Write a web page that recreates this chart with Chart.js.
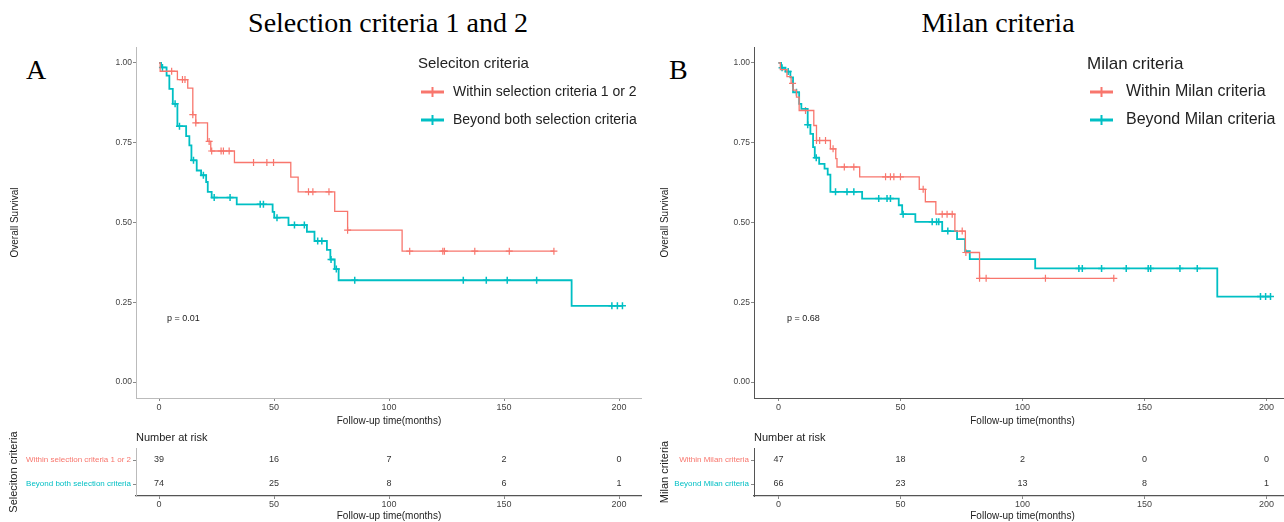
<!DOCTYPE html>
<html>
<head>
<meta charset="utf-8">
<script src="https://cdn.jsdelivr.net/npm/chart.js@4.4.1/dist/chart.umd.min.js"></script>
<style>
  html, body { margin: 0; padding: 0; background: #fff; width: 1284px; height: 522px; overflow: hidden; }
  canvas { position: absolute; }
  .ttl { position: absolute; font-family: "Liberation Serif", "Times New Roman", serif; font-size: 28px; line-height: 28px; color: #000; white-space: nowrap; }
</style>
</head>
<body>
<div class="ttl" style="left:388px; top:9px; transform:translateX(-50%);">Selection criteria 1 and 2</div>
<div class="ttl" style="left:998px; top:9px; transform:translateX(-50%);">Milan criteria</div>
<div class="ttl" style="left:26px; top:56px;">A</div>
<div class="ttl" style="left:669px; top:56px;">B</div>

<canvas id="kmA" width="642" height="432" style="left:0; top:0;"></canvas>
<canvas id="kmB" width="649" height="432" style="left:642px; top:0;"></canvas>
<canvas id="riskA" width="642" height="102" style="left:0; top:420px;"></canvas>
<canvas id="riskB" width="649" height="102" style="left:642px; top:420px;"></canvas>

<script>
// ---- data ----
const timeTicks = [0, 50, 100, 150, 200]
const survTicks = [0, 0.25, 0.5, 0.75, 1]

// panel A : selection criteria
const groupsA = ['Within selection criteria 1 or 2', 'Beyond both selection criteria']
const withinA_time = [0, 0.5, 8.0, 12.5, 14.7, 16.0, 21.1, 22.5, 32.8, 57.3, 60.5, 76.4, 82.0, 105.7]
const withinA_surv = [1, 0.974, 0.948, 0.921, 0.838, 0.812, 0.754, 0.724, 0.688, 0.642, 0.596, 0.535, 0.476, 0.41]
const withinA_cens = [5.5, 10.2, 11.3, 14.7, 16.0, 21.8, 22.9, 27.0, 28.0, 30.5, 41.1, 46.9, 49.8, 65.0, 66.9, 73.9, 82.0, 109.0, 123.4, 124.1, 137.3, 152.3, 171.7]
const beyondA_time = [0, 0.9, 3.3, 4.5, 6.0, 8.0, 11.8, 13.2, 14.1, 16.4, 18.3, 20.5, 21.2, 22.9, 33.8, 49.4, 50.1, 56.3, 64.3, 67.6, 73.0, 74.5, 76.4, 78.1, 179.4]
const beyondA_surv = [1, 0.986, 0.96, 0.919, 0.872, 0.802, 0.771, 0.742, 0.695, 0.663, 0.648, 0.627, 0.596, 0.578, 0.557, 0.533, 0.515, 0.492, 0.471, 0.442, 0.414, 0.384, 0.354, 0.319, 0.239]
const beyondA_cens = [1.5, 7.0, 8.9, 15.0, 19.3, 24.0, 30.9, 44.0, 45.4, 51.3, 58.9, 63.2, 69.0, 70.8, 74.8, 77.1, 85.1, 132.3, 142.3, 151.4, 164.2, 196.9, 199.3, 201.5]
const riskWithinA = [39, 16, 7, 2, 0]
const riskBeyondA = [74, 25, 8, 6, 1]
const pvalA = 'p = 0.01'

// panel B : milan criteria
const groupsB = ['Within Milan criteria', 'Beyond Milan criteria']
const withinB_time = [0, 0.8, 3.5, 5.2, 6.0, 7.4, 8.5, 14.5, 15.6, 21.3, 23.5, 24.0, 33.3, 57.7, 60.2, 64.5, 72.3, 76.6, 82.4]
const withinB_surv = [1, 0.979, 0.957, 0.936, 0.915, 0.893, 0.851, 0.804, 0.757, 0.731, 0.70, 0.674, 0.643, 0.604, 0.565, 0.526, 0.473, 0.406, 0.325]
const withinB_cens = [5.8, 11.1, 15.6, 16.9, 19.3, 22.4, 27.0, 30.9, 43.9, 45.9, 47.3, 50.0, 59.3, 67.1, 69.1, 71.2, 75.3, 76.8, 82.4, 85.1, 109.4, 137.4]
const beyondB_time = [0, 1.1, 2.9, 4.9, 6.0, 8.5, 9.4, 12.0, 13.1, 14.2, 14.9, 16.7, 18.9, 20.2, 21.3, 34.3, 49.3, 50.7, 56.1, 67.1, 73.2, 76.5, 78.4, 105.2, 179.8]
const beyondB_surv = [1, 0.985, 0.973, 0.955, 0.908, 0.872, 0.856, 0.806, 0.778, 0.736, 0.703, 0.684, 0.669, 0.65, 0.596, 0.575, 0.554, 0.526, 0.502, 0.473, 0.448, 0.41, 0.385, 0.356, 0.268]
const beyondB_cens = [1.5, 4.0, 7.4, 12.0, 15.5, 23.4, 28.1, 30.9, 41.1, 44.5, 45.9, 51.1, 63.0, 64.8, 65.7, 69.4, 123.1, 124.5, 132.4, 142.5, 151.5, 152.5, 164.5, 171.6, 197.5, 199.6, 201.6]
const riskWithinB = [47, 18, 2, 0, 0]
const riskBeyondB = [66, 23, 13, 8, 1]
const pvalB = 'p = 0.68'

const RED = '#F8766D'
const TEAL = '#00BFC4'
const SANS = '"Liberation Sans", Arial, sans-serif'

// step curve points, extended to the last follow-up
function kmLine(times, surv, cens) {
  const pts = times.map((t, i) => ({ x: t, y: surv[i] }))
  const last = Math.max(...cens)
  if (last > times[times.length - 1]) pts.push({ x: last, y: surv[surv.length - 1] })
  return pts
}
// survival value at time t (for censor ticks)
function survAt(times, surv, t) {
  let s = 1
  for (let i = 0; i < times.length; i++) if (times[i] <= t) s = surv[i]
  return s
}
function censPoints(times, surv, cens) {
  return cens.map(t => ({ x: t, y: survAt(times, surv, t) }))
}

// legend inside plot + p value
const kmExtras = {
  id: 'kmExtras',
  afterDraw(chart, args, opts) {
    const ctx = chart.ctx
    const xs = chart.scales.x, ys = chart.scales.y
    ctx.save()
    ctx.fillStyle = '#222'
    ctx.textBaseline = 'middle'
    ctx.textAlign = 'left'
    ctx.font = '9px ' + SANS
    ctx.fillText(opts.pval, xs.getPixelForValue(3.5), ys.getPixelForValue(0.2))

    ctx.font = opts.titleSize + 'px ' + SANS
    ctx.fillText(opts.title, opts.x, opts.y)
    ctx.font = opts.itemSize + 'px ' + SANS
    opts.labels.forEach((lab, i) => {
      const yy = opts.y + 28 + i * 28
      ctx.strokeStyle = opts.colors[i]
      ctx.lineWidth = 3
      ctx.beginPath()
      ctx.moveTo(opts.x + 3, yy)
      ctx.lineTo(opts.x + 26, yy)
      ctx.stroke()
      ctx.lineWidth = 2
      ctx.beginPath()
      ctx.moveTo(opts.x + 14.5, yy - 5)
      ctx.lineTo(opts.x + 14.5, yy + 5)
      ctx.stroke()
      ctx.fillStyle = '#222'
      ctx.fillText(lab, opts.x + opts.textOff, yy)
    })
    ctx.restore()
  }
}

function kmConfig(g, lines, axisCol, yWidth, yTitlePad) {
  return {
    type: 'line',
    data: {
      datasets: [
        { data: lines[0], borderColor: RED, borderWidth: 1.3, stepped: 'before', pointRadius: 0, fill: false },
        { data: lines[1], borderColor: TEAL, borderWidth: 1.8, stepped: 'before', pointRadius: 0, fill: false },
        { type: 'scatter', data: lines[2], borderColor: RED, pointStyle: 'cross', pointRadius: 3.5, borderWidth: 1.2 },
        { type: 'scatter', data: lines[3], borderColor: TEAL, pointStyle: 'cross', pointRadius: 3.5, borderWidth: 1.5 }
      ]
    },
    options: {
      responsive: false,
      animation: false,
      layout: { autoPadding: false, padding: { top: 47, left: 0, right: 0, bottom: 0 } },
      plugins: {
        legend: { display: false },
        tooltip: { enabled: false },
        kmExtras: Object.assign({ colors: [RED, TEAL], y: 64 }, g)
      },
      scales: {
        x: {
          type: 'linear', min: -10, max: 210,
          afterBuildTicks: s => { s.ticks = timeTicks.map(v => ({ value: v })) },
          afterFit: s => { s.height = 34 },
          grid: { drawOnChartArea: false, tickLength: 3, tickColor: '#888' },
          border: { color: axisCol, width: 1 },
          ticks: { font: { size: 9, family: SANS }, color: '#444', padding: 1, maxRotation: 0 },
          title: { display: true, text: 'Follow-up time(months)', font: { size: 10, family: SANS }, color: '#222', padding: { top: 0, bottom: 5 } }
        },
        y: {
          type: 'linear', min: -0.05, max: 1.05,
          afterBuildTicks: s => { s.ticks = survTicks.map(v => ({ value: v })) },
          afterFit: s => { s.width = yWidth },
          grid: { drawOnChartArea: false, tickLength: 3, tickColor: '#888' },
          border: { color: axisCol, width: 1 },
          ticks: { font: { size: 8.5, family: SANS }, color: '#444', padding: 1, callback: v => v.toFixed(2) },
          title: { display: true, text: 'Overall Survival', font: { size: 10, family: SANS }, color: '#222', padding: { top: yTitlePad, bottom: 0 } }
        }
      }
    },
    plugins: [kmExtras]
  }
}

// numbers in the risk table + heading
const riskText = {
  id: 'riskText',
  afterDraw(chart) {
    const ctx = chart.ctx
    ctx.save()
    ctx.textAlign = 'center'
    ctx.textBaseline = 'middle'
    ctx.font = '9px ' + SANS
    ctx.fillStyle = '#333'
    chart.data.datasets.forEach((ds, di) => {
      chart.getDatasetMeta(di).data.forEach((pt, i) => {
        ctx.fillText(String(ds.data[i].n), pt.x, pt.y)
      })
    })
    ctx.textAlign = 'left'
    ctx.font = '11px ' + SANS
    ctx.fillStyle = '#222'
    ctx.fillText('Number at risk', chart.chartArea.left, chart.chartArea.top - 10)
    ctx.restore()
  }
}

function riskConfig(groups, counts, yTitle, axisCol, leftCol, yWidth, yTitlePad) {
  return {
    type: 'scatter',
    data: {
      labels: groups,
      datasets: counts.map((c, gi) => ({
        data: timeTicks.map((t, i) => ({ x: t, y: groups[gi], n: c[i] })),
        pointRadius: 0
      }))
    },
    options: {
      responsive: false,
      animation: false,
      layout: { autoPadding: false, padding: { top: 28, left: 0, right: 0, bottom: 0 } },
      plugins: { legend: { display: false }, tooltip: { enabled: false } },
      scales: {
        x: {
          type: 'linear', min: -10, max: 210,
          afterBuildTicks: s => { s.ticks = timeTicks.map(v => ({ value: v })) },
          afterFit: s => { s.height = 26 },
          grid: { drawOnChartArea: false, tickLength: 3, tickColor: '#888' },
          border: { color: axisCol, width: 1.3 },
          ticks: { font: { size: 9, family: SANS }, color: '#444', padding: 0, maxRotation: 0 },
          title: { display: true, text: 'Follow-up time(months)', font: { size: 10, family: SANS }, color: '#222', padding: { top: 0, bottom: 0 } }
        },
        y: {
          type: 'category', labels: groups, offset: true,
          afterFit: s => { s.width = yWidth },
          grid: { drawOnChartArea: false, tickLength: 3, tickColor: '#888', offset: false },
          border: { color: leftCol, width: 1 },
          ticks: { font: { size: 8, family: SANS }, color: c => [RED, TEAL][c.index], padding: 2 },
          title: { display: true, text: yTitle, font: { size: 11, family: SANS }, color: '#222', padding: { top: yTitlePad, bottom: 0 } }
        }
      }
    },
    plugins: [riskText]
  }
}

const linesA = [
  kmLine(withinA_time, withinA_surv, withinA_cens),
  kmLine(beyondA_time, beyondA_surv, beyondA_cens),
  censPoints(withinA_time, withinA_surv, withinA_cens),
  censPoints(beyondA_time, beyondA_surv, beyondA_cens)
]
const linesB = [
  kmLine(withinB_time, withinB_surv, withinB_cens),
  kmLine(beyondB_time, beyondB_surv, beyondB_cens),
  censPoints(withinB_time, withinB_surv, withinB_cens),
  censPoints(beyondB_time, beyondB_surv, beyondB_cens)
]

new Chart(document.getElementById('kmA'),
  kmConfig({ title: 'Seleciton criteria', labels: groupsA, pval: pvalA, x: 418, titleSize: 15, itemSize: 14, textOff: 35 }, linesA, '#bbb', 136, 9))
new Chart(document.getElementById('kmB'),
  kmConfig({ title: 'Milan criteria', labels: groupsB, pval: pvalB, x: 445, titleSize: 17, itemSize: 16, textOff: 39 }, linesB, '#555', 112, 17))

new Chart(document.getElementById('riskA'),
  riskConfig(groupsA, [riskWithinA, riskBeyondA], 'Seleciton criteria', '#555', '#bbb', 136, 7))
new Chart(document.getElementById('riskB'),
  riskConfig(groupsB, [riskWithinB, riskBeyondB], 'Milan criteria', '#555', '#555', 112, 16))
</script>
</body>
</html>
